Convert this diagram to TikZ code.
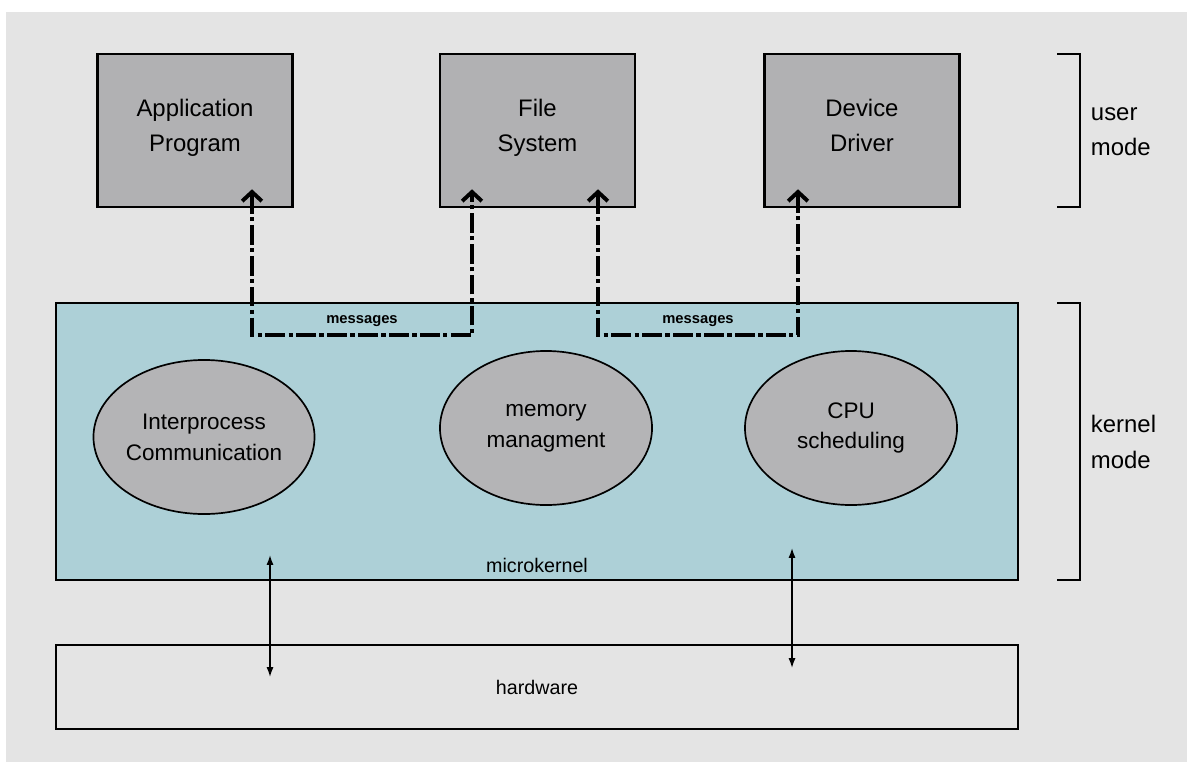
\documentclass[tikz,border=0pt]{standalone}
\usepackage{fontspec}
\setmainfont{Liberation Sans}
\usetikzlibrary{shapes.geometric,arrows.meta,calc}
\definecolor{bggray}{HTML}{E4E4E4}
\definecolor{boxgray}{HTML}{B1B1B3}
\definecolor{kernblue}{HTML}{ADD0D7}
\definecolor{ovalgray}{HTML}{B4B4B6}
\tikzset{
  userbox/.style={draw, line width=1.8pt, fill=boxgray, minimum width=4.875cm, minimum height=3.825cm, align=center, font=\fontsize{17}{25}\selectfont, execute at begin node=\strut, execute at end node=\strut},
  service/.style={ellipse, draw, line width=1.2pt, fill=ovalgray, minimum width=5.3cm, minimum height=3.85cm, inner sep=0pt, align=center, font=\fontsize{16}{22}\selectfont},
  layer/.style={draw, line width=1.8pt, minimum width=24.05cm, inner sep=0pt},
  msg/.style={line width=2.8pt, dash pattern=on 14pt off 2.5pt on 3pt off 2.5pt, {Straight Barb[length=6.5pt,width=14pt]}-{Straight Barb[length=6.5pt,width=14pt]}},
  msglabel/.style={font=\fontsize{10.5}{11}\bfseries, inner sep=1pt, above=4pt},
  io/.style={line width=1pt, {Latex[length=7pt,width=5pt]}-{Latex[length=7pt,width=5pt]}},
  bracket/.style={line width=1.4pt},
  modelabel/.style={anchor=west, align=left, font=\fontsize{17}{25}\selectfont}
}
\begin{document}
\begin{tikzpicture}[x=0.025cm, y=-0.025cm]
    \useasboundingbox (0,0) rectangle (1187,762);
    \fill[bggray] (6,12) rectangle (1187,762);
%user mode
    \node[userbox] (app) at (195,130.5) {Application\\Program};
    \node[userbox] (fs) at (537.5,130.5) {File\\System};
    \node[userbox] (dd) at (862,130.5) {Device\\Driver};
%kernel mode
    \node[layer, fill=kernblue, minimum height=6.925cm] (kernel) at (537,441.5) {};
    \node[font=\fontsize{14}{16}\selectfont] (mk) at (537,565) {microkernel};
    \node[service] (ipc) at (204,437) {Interprocess\\Communication};
    \node[service] (mem) at (546,428) {memory\\managment};
    \node[service] (cpu) at (851,428) {CPU\\scheduling};
    \node[layer, fill=bggray, minimum height=2.1cm, font=\fontsize{14}{16}\selectfont] (hw) at (537,687) {hardware};
    \coordinate (m1) at ($(app.south)+(57,-19)$);
    \coordinate (m2) at ($(fs.south)+(-65.5,-19)$);
    \coordinate (m3) at ($(fs.south)+(60.5,-19)$);
    \coordinate (m4) at ($(dd.south)+(-64,-19)$);
    \draw[msg] (m1) -- ++(0,146) -| node[pos=0.25, msglabel] (msgA) {messages} (m2);
    \draw[msg] (m3) -- ++(0,146) -| node[pos=0.25, msglabel] (msgB) {messages} (m4);
    \coordinate (ioL1) at (270,555);
    \coordinate (ioL2) at (270,677);
    \coordinate (ioR1) at (792,548);
    \coordinate (ioR2) at (792,668);
    \draw[io] (ioL1) -- (ioL2);
    \draw[io] (ioR1) -- (ioR2);
    \draw[bracket] (1057,54) -| (1080,207) -- (1057,207);
    \draw[bracket] (1057,303) -| (1080,580) -- (1057,580);
    \node[modelabel] (um) at (1086,132) {user\\mode};
    \node[modelabel] (km) at (1086,442) {kernel\\mode};
\end{tikzpicture}
\end{document}
